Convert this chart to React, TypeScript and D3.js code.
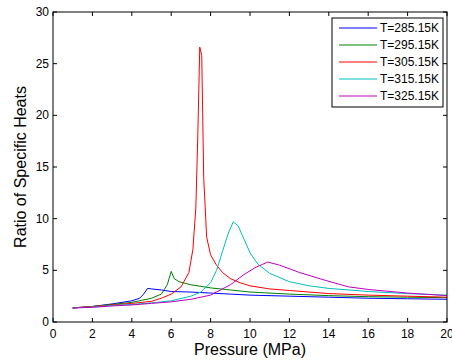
import * as d3 from "d3";

// pressure (MPa) and ratio of specific heats
const p285 = [1, 2, 3, 4, 4.4, 4.6, 4.8, 5.0, 5.5, 6, 7, 8, 9, 10, 12, 14, 16, 18, 20];
const v285 = [1.36, 1.5, 1.75, 2.05, 2.3, 2.7, 3.25, 3.2, 3.1, 2.95, 2.9, 2.8, 2.7, 2.6, 2.5, 2.4, 2.3, 2.25, 2.2];

const p295 = [1, 2, 3, 4, 4.5, 5, 5.5, 5.8, 6.0, 6.15, 6.4, 7, 8, 9, 10, 12, 14, 16, 18, 20];
const v295 = [1.36, 1.5, 1.7, 1.9, 2.1, 2.3, 2.7, 3.6, 4.9, 4.2, 3.9, 3.6, 3.3, 3.1, 2.9, 2.7, 2.55, 2.45, 2.4, 2.35];

const p305 = [1, 2, 3, 4, 5, 5.5, 6, 6.5, 6.9, 7.1, 7.25, 7.35, 7.45, 7.55, 7.65, 7.8, 8.0, 8.3, 8.6, 9.0, 9.5, 10, 11, 12, 14, 16, 18, 20];
const v305 = [1.36, 1.5, 1.65, 1.8, 2.0, 2.3, 2.7, 3.4, 4.8, 7, 11, 18, 26.6, 25.8, 14, 8.2, 6.5, 5.5, 4.8, 4.2, 3.8, 3.5, 3.2, 3.05, 2.75, 2.6, 2.5, 2.4];

const p315 = [1, 2, 3, 4, 5, 6, 7, 7.5, 8, 8.3, 8.6, 8.9, 9.15, 9.4, 9.7, 10, 10.4, 11, 12, 13, 14, 16, 18, 20];
const v315 = [1.36, 1.45, 1.6, 1.7, 1.85, 2.05, 2.5, 2.9, 3.8, 5.0, 6.8, 8.6, 9.7, 9.3, 8.0, 6.7, 5.6, 4.7, 3.9, 3.5, 3.25, 2.95, 2.75, 2.6];

const p325 = [1, 2, 3, 4, 5, 6, 7, 8, 9, 9.7, 10.3, 10.9, 11.5, 12.5, 13.7, 15, 16, 18, 20];
const v325 = [1.36, 1.42, 1.55, 1.65, 1.8, 1.95, 2.2, 2.6, 3.6, 4.6, 5.3, 5.8, 5.5, 4.8, 4.1, 3.4, 3.15, 2.8, 2.55];

const labels = ["T=285.15K", "T=295.15K", "T=305.15K", "T=315.15K", "T=325.15K"];
const colors = ["#0000ff", "#008000", "#ff0000", "#00bfbf", "#bf00bf"];
const xTicks = [0, 2, 4, 6, 8, 10, 12, 14, 16, 18, 20];
const yTicks = [0, 5, 10, 15, 20, 25, 30];

const series = [
  [p285, v285],
  [p295, v295],
  [p305, v305],
  [p315, v315],
  [p325, v325],
];

const W = 452;
const H = 363;
const left = 53, right = 447, top = 12, bottom = 322;
const font = "'Liberation Sans', Arial, sans-serif";

export default function App() {
  const x = d3.scaleLinear().domain([0, 20]).range([left, right]);
  const y = d3.scaleLinear().domain([0, 30]).range([bottom, top]);
  const line = d3
    .line<[number, number]>()
    .x((d) => x(d[0]))
    .y((d) => y(d[1]));

  return (
    <svg
      width={W}
      height={H}
      style={{ position: "absolute", left: 0, top: 0, background: "#fff" }}
      fontFamily={font}
    >
      <rect x={0} y={0} width={W} height={H} fill="#fff" />
      {series.map(([ps, vs], i) => (
        <path
          key={i}
          d={line(ps.map((p, j) => [p, vs[j]] as [number, number])) || ""}
          fill="none"
          stroke={colors[i]}
          strokeWidth={1}
        />
      ))}

      {/* frame and ticks */}
      <rect x={left} y={top} width={right - left} height={bottom - top} fill="none" stroke="#000" strokeWidth={1} />
      {xTicks.map((t) => (
        <g key={"x" + t}>
          <line x1={x(t)} x2={x(t)} y1={bottom} y2={bottom - 4} stroke="#000" />
          <line x1={x(t)} x2={x(t)} y1={top} y2={top + 4} stroke="#000" />
          <text x={x(t)} y={338} fontSize={12} textAnchor="middle" fill="#000">
            {t}
          </text>
        </g>
      ))}
      {yTicks.map((t) => (
        <g key={"y" + t}>
          <line x1={left} x2={left + 4} y1={y(t)} y2={y(t)} stroke="#000" />
          <line x1={right} x2={right - 4} y1={y(t)} y2={y(t)} stroke="#000" />
          <text x={49} y={y(t) + 4} fontSize={12} textAnchor="end" fill="#000">
            {t}
          </text>
        </g>
      ))}

      <text x={(left + right) / 2} y={355} fontSize={16} textAnchor="middle" fill="#000">
        Pressure (MPa)
      </text>
      <text
        transform={`translate(26, ${(top + bottom) / 2}) rotate(-90)`}
        fontSize={16}
        textAnchor="middle"
        fill="#000"
      >
        Ratio of Specific Heats
      </text>

      {/* legend */}
      <rect x={332} y={18} width={111} height={89} fill="#fff" stroke="#000" strokeWidth={1} />
      {labels.map((l, i) => (
        <g key={l}>
          <line x1={339} x2={377} y1={28 + i * 17} y2={28 + i * 17} stroke={colors[i]} strokeWidth={1} />
          <text x={380} y={32 + i * 17} fontSize={12} fill="#000">
            {l}
          </text>
        </g>
      ))}
    </svg>
  );
}
